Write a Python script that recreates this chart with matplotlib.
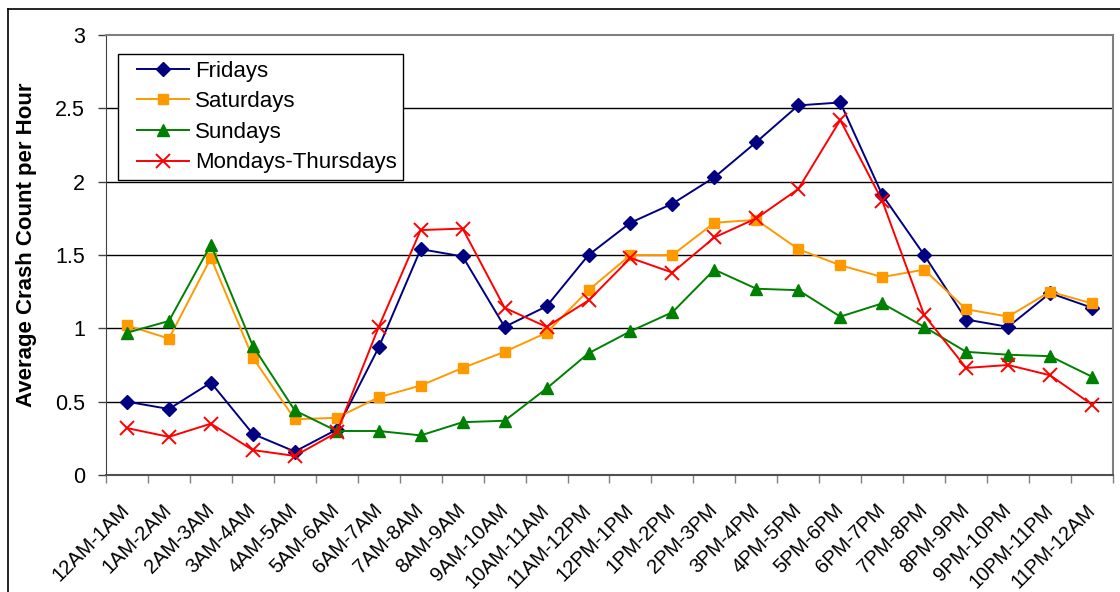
import numpy as np
import matplotlib
matplotlib.use('Agg')
import matplotlib.pyplot as plt
from matplotlib.lines import Line2D
from matplotlib.legend_handler import HandlerLine2D

plt.rcParams['font.family'] = ['Liberation Sans', 'DejaVu Sans']

# hour intervals
hours = ['12AM-1AM', '1AM-2AM', '2AM-3AM', '3AM-4AM', '4AM-5AM', '5AM-6AM',
         '6AM-7AM', '7AM-8AM', '8AM-9AM', '9AM-10AM', '10AM-11AM', '11AM-12PM',
         '12PM-1PM', '1PM-2PM', '2PM-3PM', '3PM-4PM', '4PM-5PM', '5PM-6PM',
         '6PM-7PM', '7PM-8PM', '8PM-9PM', '9PM-10PM', '10PM-11PM', '11PM-12AM']

# average crash count per hour
fridays = [0.50, 0.45, 0.63, 0.28, 0.16, 0.31, 0.87, 1.54, 1.49, 1.01, 1.15, 1.50,
           1.72, 1.85, 2.03, 2.27, 2.52, 2.54, 1.91, 1.50, 1.06, 1.01, 1.24, 1.14]
saturdays = [1.02, 0.93, 1.48, 0.80, 0.38, 0.39, 0.53, 0.61, 0.73, 0.84, 0.97, 1.26,
             1.50, 1.50, 1.72, 1.74, 1.54, 1.43, 1.35, 1.40, 1.13, 1.08, 1.25, 1.17]
sundays = [0.97, 1.05, 1.57, 0.88, 0.44, 0.30, 0.30, 0.27, 0.36, 0.37, 0.59, 0.83,
           0.98, 1.11, 1.40, 1.27, 1.26, 1.08, 1.17, 1.01, 0.84, 0.82, 0.81, 0.67]
mon_thu = [0.32, 0.26, 0.35, 0.17, 0.13, 0.29, 1.01, 1.67, 1.68, 1.14, 1.01, 1.19,
           1.48, 1.38, 1.62, 1.75, 1.95, 2.42, 1.87, 1.09, 0.73, 0.75, 0.68, 0.48]

fig = plt.figure(figsize=(11.2, 5.92), dpi=100)
ax = fig.add_axes([106/1120, 117/592, 1007/1120, 440/592])

x = np.arange(len(hours))
ax.plot(x, fridays, color='#000080', lw=1.4, marker='D', ms=7.5, label='Fridays')
ax.plot(x, saturdays, color='#FF9900', lw=1.4, marker='s', ms=7.5, label='Saturdays')
ax.plot(x, sundays, color='#008000', lw=1.4, marker='^', ms=8.5, label='Sundays')
ax.plot(x, mon_thu, color='#FF0000', lw=1.4, marker='x', ms=9.5, mew=1.4,
        label='Mondays-Thursdays')

ax.set_xlim(-0.5, len(hours) - 0.5)
ax.set_ylim(0, 3)
ax.set_yticks([0, 0.5, 1, 1.5, 2, 2.5, 3])
ax.set_yticklabels(['0', '0.5', '1', '1.5', '2', '2.5', '3'], fontsize=15.5)
for v in [0.5, 1, 1.5, 2, 2.5]:
    ax.axhline(v, color='black', lw=1.0, zorder=0)

ax.set_xticks(x)
ax.set_xticklabels(hours, rotation=45, ha='right', va='center', rotation_mode='anchor',
                   fontsize=14.5)
ax.set_xticks(np.arange(-0.5, len(hours)), minor=True)
ax.tick_params(axis='x', which='major', length=0, pad=23)
ax.tick_params(axis='x', which='minor', length=6, color='#808080', width=1)
ax.tick_params(axis='y', length=6, width=1, color='#404040', pad=9)

for s in ['top', 'right']:
    ax.spines[s].set_color('#808080')
    ax.spines[s].set_linewidth(1.5)
ax.spines['left'].set_color('#404040')
ax.spines['bottom'].set_color('#505050')
ax.spines['bottom'].set_linewidth(1.5)

ax.set_ylabel('Average Crash Count per Hour', fontsize=16, fontweight='bold')
ax.yaxis.set_label_coords(-0.0685, 0.523)

leg = ax.legend(loc='upper left', bbox_to_anchor=(12/1007, 1 - 19/440), fontsize=16,
                frameon=True, fancybox=False, edgecolor='black', framealpha=1,
                borderpad=0.3, labelspacing=0.43, handlelength=2.9, handletextpad=0.25,
                borderaxespad=0, handler_map={Line2D: HandlerLine2D(xpad=0.55)})
leg.get_frame().set_linewidth(1.0)

# chart frame
fig.add_artist(Line2D([8/1120, 8/1120], [0, 1 - 9/592], color='black', lw=1.2,
                      transform=fig.transFigure))
fig.add_artist(Line2D([8/1120, 1], [1 - 9/592, 1 - 9/592], color='black', lw=1.2,
                      transform=fig.transFigure))

fig.savefig('out.png', dpi=100)
